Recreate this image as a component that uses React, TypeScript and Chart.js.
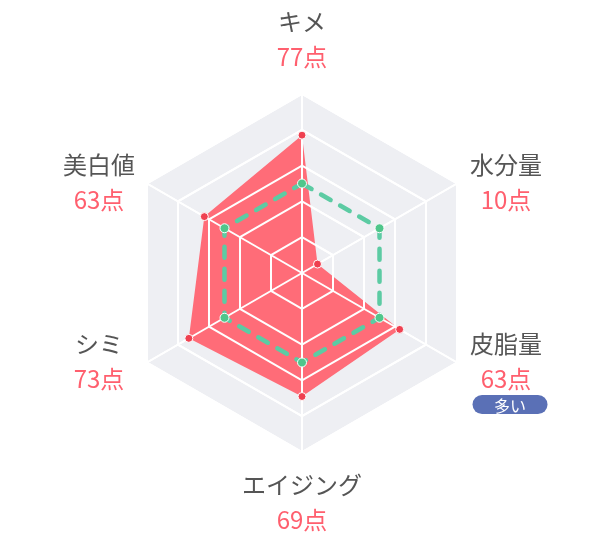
import React, { useEffect, useRef } from 'react'
import Chart from 'chart.js/auto'

// axis names, scores and the little badges under a few of them
const categories = ['キメ', '水分量', '皮脂量', 'エイジング', 'シミ', '美白値']
const scores = [77, 10, 63, 69, 73, 63]
const average = [50, 50, 50, 50, 50, 50]
const badges = ['', '', '多い', '', '', '']
const tickValues = [0, 20, 40, 60, 80, 100]

const FONT = '"Noto Sans CJK JP", "Noto Sans", sans-serif'

// redraw the white grid on top of the red fill, before points and the dashed line
const gridOverFill = {
  id: 'gridOverFill',
  afterDatasetDraw(chart: any, args: any) {
    if (chart.data.datasets[args.index].label !== 'fill') return
    chart.scales.r.drawGrid(chart.chartArea)
  },
}

// two-line labels (name + score) and the badge
const labelPlugin = {
  id: 'labelPlugin',
  afterDraw(chart: any) {
    const ctx = chart.ctx
    const scale = chart.scales.r
    const cx = scale.xCenter
    const max = tickValues[tickValues.length - 1]
    ctx.save()
    ctx.textAlign = 'center'
    ctx.textBaseline = 'middle'
    categories.forEach((name, i) => {
      const v = scale.getPointPositionForValue(i, max)
      let x = v.x
      let nameY: number
      let scoreY: number
      if (Math.abs(v.x - cx) < 1) {
        if (v.y < scale.yCenter) {
          nameY = v.y - 72
          scoreY = v.y - 37
        } else {
          nameY = v.y + 33
          scoreY = v.y + 68
        }
      } else {
        x = v.x + (v.x > cx ? 49 : -48)
        nameY = v.y - 19
        scoreY = v.y + 16
      }
      ctx.font = `24px ${FONT}`
      ctx.fillStyle = '#555555'
      ctx.fillText(name, x, nameY)
      ctx.fillStyle = '#ff5f6e'
      ctx.fillText(`${scores[i]}点`, x, scoreY)

      if (badges[i]) {
        const bx = x + 4
        const by = scoreY + 26
        const w = 75
        const h = 19
        ctx.fillStyle = '#5a70b6'
        ctx.beginPath()
        ctx.roundRect(bx - w / 2, by - h / 2, w, h, h / 2)
        ctx.fill()
        ctx.fillStyle = '#ffffff'
        ctx.font = `16px ${FONT}`
        ctx.fillText(badges[i], bx, by + 1)
      }
    })
    ctx.restore()
  },
}

const App = () => {
  const chartRef = useRef<HTMLCanvasElement | null>(null)

  useEffect(() => {
    if (!chartRef.current) return
    const chart = new Chart(chartRef.current, {
      type: 'radar',
      data: {
        labels: categories,
        datasets: [
          {
            label: 'average',
            data: average,
            order: 0,
            fill: false,
            borderColor: '#5ccba3',
            borderWidth: 4.5,
            borderDash: [11, 11],
            borderCapStyle: 'round',
            pointRadius: 4.5,
            pointBackgroundColor: '#50c68b',
            pointBorderColor: '#ffffff',
            pointBorderWidth: 1,
          },
          {
            label: 'points',
            data: scores,
            order: 1,
            fill: false,
            borderWidth: 0,
            borderColor: 'rgba(0,0,0,0)',
            pointRadius: 4,
            pointBackgroundColor: '#ef4050',
            pointBorderColor: '#ffffff',
            pointBorderWidth: 1,
          },
          {
            label: 'fill',
            data: scores,
            order: 2,
            fill: true,
            backgroundColor: '#ff6c78',
            borderWidth: 0,
            borderColor: 'rgba(0,0,0,0)',
            pointRadius: 0,
          },
        ],
      },
      options: {
        responsive: false,
        animation: false,
        layout: { padding: { left: 123, right: 119, top: 94, bottom: 87 } },
        plugins: {
          legend: { display: false },
          tooltip: { enabled: false },
        },
        scales: {
          r: {
            min: tickValues[0],
            max: tickValues[tickValues.length - 1],
            backgroundColor: '#eeeff3',
            ticks: { display: false, stepSize: 20 },
            grid: { color: '#ffffff', lineWidth: 2 },
            angleLines: { color: '#ffffff', lineWidth: 2 },
            pointLabels: { display: false },
          },
        },
      },
      plugins: [gridOverFill, labelPlugin],
    })

    return () => chart.destroy()
  }, [])

  return (
    <div style={{ position: 'fixed', left: 0, top: 0, width: 600, height: 539, background: '#fff' }}>
      <canvas ref={chartRef} width={600} height={539} />
    </div>
  )
}

export default App
